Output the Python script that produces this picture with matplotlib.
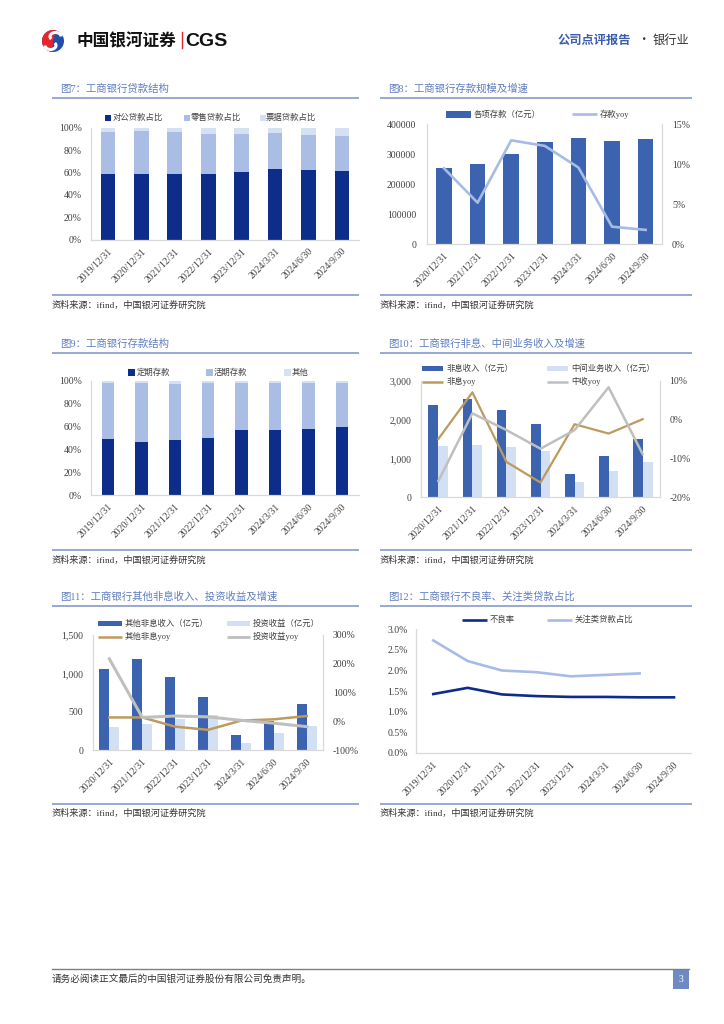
import numpy as np
import matplotlib
matplotlib.use('Agg')
import matplotlib.pyplot as plt
from matplotlib.patches import Rectangle, Circle, Wedge, Arc

W, H = 724, 1024
FAM = ['Liberation Serif', 'Noto Sans CJK SC', 'DejaVu Sans']
CJK = ['Noto Sans CJK SC', 'DejaVu Sans']
plt.rcParams['font.family'] = FAM
plt.rcParams['axes.unicode_minus'] = False

# ---------------- data ----------------
dates8 = ['2019/12/31', '2020/12/31', '2021/12/31', '2022/12/31',
          '2023/12/31', '2024/3/31', '2024/6/30', '2024/9/30']
dates7 = dates8[1:]

# Fig 7 loan structure (%)
loan_corp = [58.6, 58.6, 58.3, 58.6, 60.7, 62.8, 61.9, 61.3]
loan_retail = [37.8, 38.4, 38.1, 35.4, 33.6, 32.1, 31.9, 31.6]
loan_bill = [3.6, 3.0, 3.6, 6.0, 5.7, 5.1, 6.2, 7.1]

# Fig 8 deposits
deposits = [255000, 268500, 302000, 339500, 354000, 345500, 351000]
dep_yoy = [9.5, 5.2, 13.0, 12.3, 9.6, 2.2, 1.8]

# Fig 9 deposit structure (%)
dep_fixed = [49.1, 46.8, 48.3, 50.3, 57.3, 57.3, 57.8, 59.3]
dep_demand = [49.1, 50.9, 49.1, 47.4, 40.3, 40.3, 39.8, 38.3]
dep_other = [1.8, 2.3, 2.6, 2.3, 2.4, 2.4, 2.4, 2.4]

# Fig 10 non-interest & fee income
nonint = [2366, 2529, 2246, 1886, 591, 1071, 1500]
fee = [1320, 1337, 1294, 1200, 394, 677, 909]
nonint_yoy = [-5.0, 7.0, -10.9, -16.2, -1.2, -3.6, 0.1]
fee_yoy = [-15.8, 1.6, -2.7, -7.5, -2.7, 8.3, -8.9]

# Fig 11 other non-interest & investment income
other_nonint = [1053, 1192, 954, 689, 195, 380, 598]
invest = [303, 342, 412, 464, 95, 221, 316]
other_yoy = [14, 14, -18, -29, 3, 7.5, 19]
invest_yoy = [217, 14, 19, 16, 4, -6, -18]

# Fig 12 NPL & special mention
npl = [1.43, 1.58, 1.42, 1.38, 1.36, 1.36, 1.35, 1.35]
special = [2.73, 2.23, 2.00, 1.96, 1.86, np.nan, 1.93, np.nan]

# ---------------- colors ----------------
NAVY = '#0C2E8A'
LIGHT = '#A9BDE5'
PALE = '#D5E0F3'
MID = '#3B63B0'
PALE2 = '#D3DFF3'
LINEB = '#A6BCE6'
TAN = '#BD9A5F'
GRAY = '#BFBFBF'
TITLEC = '#5F7DBF'
SEPC = '#8FA2CE'
TXT = '#404040'
SPINE = '#D9D9D9'

fig = plt.figure(figsize=(7.24, 10.24), dpi=100)
fig.patch.set_facecolor('white')


def add_ax(l, t, r, b):
    return fig.add_axes([l / W, 1 - b / H, (r - l) / W, (b - t) / H])


ov = fig.add_axes([0, 0, 1, 1], zorder=10)
ov.set_xlim(0, W)
ov.set_ylim(H, 0)
ov.axis('off')
ov.patch.set_visible(False)


def T(x, y, s, size, color=TXT, ha='left', va='center', weight='normal', family=None):
    ov.text(x, y, s, fontsize=size, color=color, ha=ha, va=va,
            fontweight=weight, family=family or FAM)


def frame(x0, x1, yt, yl, yb, ys, title):
    T(x0 + 8, yt, title, 7.5, color=TITLEC)
    ov.plot([x0, x1], [yl, yl], color=SEPC, lw=1.3, solid_capstyle='butt')
    ov.plot([x0, x1], [yb, yb], color=SEPC, lw=1.3, solid_capstyle='butt')
    T(x0, ys, '资料来源：ifind，中国银河证券研究院', 6.6, color='#333333')


def leg_rect(x, y, w, h, c, text, tx):
    ov.add_patch(Rectangle((x, y - h / 2), w, h, color=c, lw=0))
    T(tx, y, text, 6)


def leg_line(x0, x1, y, c, lw, text, tx):
    ov.plot([x0, x1], [y, y], color=c, lw=lw, solid_capstyle='butt')
    T(tx, y, text, 6)


def style(ax, xlabels, right=False):
    ax.spines['top'].set_visible(False)
    ax.spines['right'].set_visible(right)
    for s in ax.spines.values():
        s.set_color(SPINE)
        s.set_linewidth(0.9)
    ax.tick_params(length=0, labelsize=7, colors=TXT)
    ax.tick_params(axis='y', pad=7)
    ax.tick_params(axis='x', pad=5)
    ax.set_xticks(range(len(xlabels)))
    ax.set_xticklabels(xlabels, rotation=45, ha='right', rotation_mode='anchor')
    ax.set_xlim(-0.5, len(xlabels) - 0.5)


def style_twin(ax2, ticks, labels, lim):
    for k in ['top', 'left', 'bottom']:
        ax2.spines[k].set_visible(False)
    ax2.spines['right'].set_color(SPINE)
    ax2.spines['right'].set_linewidth(0.9)
    ax2.set_ylim(*lim)
    ax2.set_yticks(ticks)
    ax2.set_yticklabels(labels)
    ax2.tick_params(length=0, labelsize=7, colors=TXT, pad=7)


# ---------------- header ----------------
ov.add_patch(Circle((53, 41), 11, color='#1F4FA8', lw=0))
ov.add_patch(Wedge((53, 41), 11, 95, 285, color='#E8242B', lw=0))
ov.add_patch(Arc((55.5, 36.5), 11, 8, angle=0, theta1=150, theta2=360, color='white', lw=2.2))
ov.add_patch(Arc((50.5, 45.5), 11, 8, angle=0, theta1=-30, theta2=180, color='white', lw=2.2))
T(76.5, 41, '中国银河证券', 12, color='#111111', weight='bold', family=CJK)
ov.plot([181.7, 181.7], [31.7, 48.3], color='#E8242B', lw=1.0)
T(185, 41, 'CGS', 14, color='#111111', weight='bold', family=['Liberation Sans'])
T(558, 40, '公司点评报告', 8.8, color='#3A5DAE', weight='bold', family=CJK)
T(643, 40, '·', 8.8, color='#333333', ha='center', family=CJK)
T(652.5, 40, '银行业', 8.8, color='#333333', family=CJK)

# ---------------- footer ----------------
ov.plot([52, 689], [969.3, 969.3], color='#7F7F7F', lw=1.0)
T(52, 979.5, '请务必阅读正文最后的中国银河证券股份有限公司免责声明。', 6.9, color='#333333', family=CJK)
ov.add_patch(Rectangle((672.7, 969.3), 16.6, 20, color='#6E8AC2', lw=0))
T(681, 979.5, '3', 7, color='white', ha='center')

# ---------------- panel frames ----------------
LX0, LX1 = 52, 359
RX0, RX1 = 380, 692
frame(LX0, LX1, 89, 98, 295, 305, '图7：工商银行贷款结构')
frame(RX0, RX1, 89, 98, 295, 305, '图8：工商银行存款规模及增速')
frame(LX0, LX1, 344, 353, 550, 560, '图9：工商银行存款结构')
frame(RX0, RX1, 344, 353, 550, 560, '图10：工商银行非息、中间业务收入及增速')
frame(LX0, LX1, 597, 606, 804, 813.5, '图11：工商银行其他非息收入、投资收益及增速')
frame(RX0, RX1, 597, 606, 804, 813.5, '图12：工商银行不良率、关注类贷款占比')

pct_ticks = list(range(0, 101, 20))
pct_labels = [f'{v}%' for v in pct_ticks]

# ---------------- Fig 7 ----------------
ax7 = add_ax(91.3, 127.7, 358.6, 239.7)
x8 = np.arange(len(dates8))
ax7.bar(x8, loan_corp, 0.44, color=NAVY)
ax7.bar(x8, loan_retail, 0.44, bottom=loan_corp, color=LIGHT)
ax7.bar(x8, loan_bill, 0.44, bottom=np.add(loan_corp, loan_retail), color=PALE)
style(ax7, dates8)
ax7.set_ylim(0, 100)
ax7.set_yticks(pct_ticks)
ax7.set_yticklabels(pct_labels)
leg_rect(105, 118.3, 6, 6, NAVY, '对公贷款占比', 112.7)
leg_rect(184, 118.3, 6, 6, LIGHT, '零售贷款占比', 190.5)
leg_rect(260, 118.3, 6, 6, PALE, '票据贷款占比', 266)

# ---------------- Fig 8 ----------------
ax8 = add_ax(427.2, 124.3, 662.4, 244.3)
x7 = np.arange(len(dates7))
ax8.bar(x7, deposits, 0.46, color=MID)
style(ax8, dates7, right=False)
ax8.set_ylim(0, 400000)
ax8.set_yticks([0, 100000, 200000, 300000, 400000])
ax8.set_yticklabels(['0', '100000', '200000', '300000', '400000'])
ax8.tick_params(axis='y', pad=8)
ax8b = ax8.twinx()
ax8b.plot(x7, dep_yoy, color=LINEB, lw=1.9)
style_twin(ax8b, [0, 5, 10, 15], ['0%', '5%', '10%', '15%'], (0, 15))
leg_rect(446, 114.3, 25, 6.5, MID, '各项存款（亿元）', 473.5)
leg_line(571.7, 596.7, 114.3, LINEB, 1.9, '存款yoy', 599.5)

# ---------------- Fig 9 ----------------
ax9 = add_ax(91.3, 380.7, 358.6, 495.3)
ax9.bar(x8, dep_fixed, 0.37, color=NAVY)
ax9.bar(x8, dep_demand, 0.37, bottom=dep_fixed, color=LIGHT)
ax9.bar(x8, dep_other, 0.37, bottom=np.add(dep_fixed, dep_demand), color=PALE)
style(ax9, dates8)
ax9.set_ylim(0, 100)
ax9.set_yticks(pct_ticks)
ax9.set_yticklabels(pct_labels)
leg_rect(128, 372.7, 6.5, 6.5, NAVY, '定期存款', 136.7)
leg_rect(206, 372.7, 6.5, 6.5, LIGHT, '活期存款', 213.5)
leg_rect(284, 372.7, 6.5, 6.5, PALE, '其他', 291.7)

# ---------------- Fig 10 ----------------
ax10 = add_ax(421.3, 380.7, 659.7, 497.3)
bw = 0.29
ax10.bar(x7 - bw / 2, nonint, bw, color=MID)
ax10.bar(x7 + bw / 2, fee, bw, color=PALE2)
style(ax10, dates7)
ax10.set_ylim(0, 3000)
ax10.set_yticks([0, 1000, 2000, 3000])
ax10.set_yticklabels(['0', '1,000', '2,000', '3,000'])
ax10b = ax10.twinx()
ax10b.plot(x7, nonint_yoy, color=TAN, lw=1.6)
ax10b.plot(x7, fee_yoy, color=GRAY, lw=1.8)
style_twin(ax10b, [-20, -10, 0, 10], ['-20%', '-10%', '0%', '10%'], (-20, 10))
leg_rect(421.7, 368.3, 21.5, 5, MID, '非息收入（亿元）', 446)
leg_rect(546.7, 368.3, 21.5, 5, PALE2, '中间业务收入（亿元）', 571.7)
leg_line(421.7, 443.2, 381.7, TAN, 1.8, '非息yoy', 446)
leg_line(546.7, 568.2, 381.7, GRAY, 1.8, '中收yoy', 571.7)

# ---------------- Fig 11 ----------------
ax11 = add_ax(92.9, 635, 323.3, 750.3)
bw = 0.30
ax11.bar(x7 - bw / 2, other_nonint, bw, color=MID)
ax11.bar(x7 + bw / 2, invest, bw, color=PALE2)
style(ax11, dates7)
ax11.set_ylim(0, 1500)
ax11.set_yticks([0, 500, 1000, 1500])
ax11.set_yticklabels(['0', '500', '1,000', '1,500'])
ax11b = ax11.twinx()
ax11b.plot(x7, other_yoy, color=TAN, lw=1.8)
ax11b.plot(x7, invest_yoy, color=GRAY, lw=2.2)
style_twin(ax11b, [-100, 0, 100, 200, 300], ['-100%', '0%', '100%', '200%', '300%'], (-100, 300))
leg_rect(98.3, 623.3, 23.4, 5, MID, '其他非息收入（亿元）', 124.3)
leg_rect(226.7, 623.3, 23.3, 5, PALE2, '投资收益（亿元）', 252.7)
leg_line(98.3, 121.7, 636.7, TAN, 1.8, '其他非息yoy', 124.3)
leg_line(226.7, 250, 636.7, GRAY, 2.0, '投资收益yoy', 252.7)

# ---------------- Fig 12 ----------------
ax12 = add_ax(416.1, 629.3, 691.2, 753)
ax12.plot(x8, npl, color=NAVY, lw=1.9)
sp = np.array(special, dtype=float)
mask = ~np.isnan(sp)
ax12.plot(x8[mask], sp[mask], color=LINEB, lw=1.9)
style(ax12, dates8)
ax12.set_ylim(0, 3.0)
yt = [0, 0.5, 1.0, 1.5, 2.0, 2.5, 3.0]
ax12.set_yticks(yt)
ax12.set_yticklabels([f'{v:.1f}%' for v in yt])
ax12.tick_params(axis='y', pad=6)
leg_line(461.7, 486.7, 620, NAVY, 1.9, '不良率', 489.5)
leg_line(546.7, 571.7, 620, LINEB, 1.9, '关注类贷款占比', 574.5)

fig.savefig('out.png', dpi=100, facecolor='white')
